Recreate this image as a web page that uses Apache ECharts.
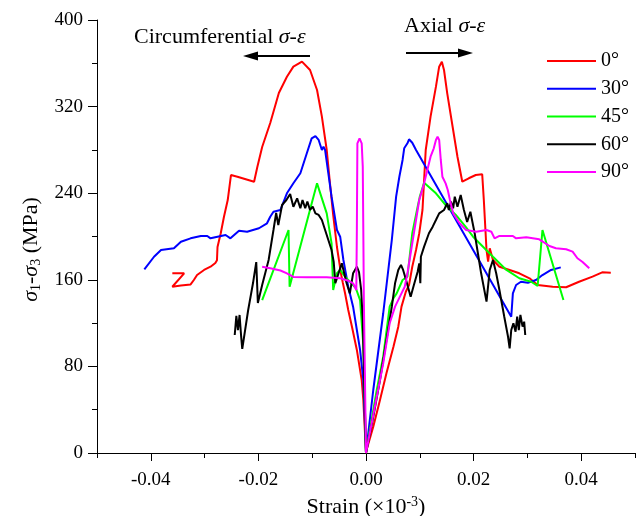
<!DOCTYPE html>
<html>
<head>
<meta charset="utf-8">
<script src="https://cdn.jsdelivr.net/npm/echarts@6/dist/echarts.min.js"></script>
<style>
  html, body { margin: 0; padding: 0; background: #fff; }
  #chart { width: 638px; height: 516px; }
</style>
</head>
<body>
<div id="chart"></div>
<script>
const FONT = "'Liberation Serif', 'Times New Roman', serif";

const angleNames = ['0°', '30°', '45°', '60°', '90°'];
const lineColors = ['#ff0000', '#0000ff', '#00ff00', '#000000', '#ff00ff'];

const xLabelTicks = [-0.04, -0.02, 0, 0.02, 0.04];
const xMinorTicks = [-0.05, -0.03, -0.01, 0.01, 0.03, 0.05];
const yMin = 0, yMax = 400, yStep = 80;

// Circumferential branches: [strain, deviatoric stress], from the far end back to the origin
const circ0 = [[-0.0360,166.0],[-0.0338,166.0],[-0.0360,153.6],[-0.0344,154.7],[-0.0326,155.7],[-0.0320,159.8],[-0.0314,164.4],[-0.0301,169.1],[-0.0289,172.1],[-0.0280,175.5],[-0.0277,178.0],[-0.0276,190.3],[-0.0270,203.0],[-0.0264,218.3],[-0.0257,233.7],[-0.0251,256.8],[-0.0239,255.2],[-0.0208,250.6],[-0.0202,264.2],[-0.0193,282.7],[-0.0178,304.9],[-0.0162,332.6],[-0.0147,347.6],[-0.0135,356.9],[-0.0119,361.5],[-0.0104,353.8],[-0.0091,335.3],[-0.0082,310.7],[-0.0073,279.9],[-0.0067,249.4],[-0.0061,219.9],[-0.0054,190.3],[-0.0046,164.4],[-0.0043,157.0],[-0.0039,147.8],[-0.0033,132.1],[-0.0026,116.4],[-0.0017,95.2],[-0.0008,67.4],[-0.0005,49.0],[0,0]];
const circ30 = [[-0.0412,169.7],[-0.0394,181.3],[-0.0381,187.5],[-0.0357,189.1],[-0.0344,195.2],[-0.0326,198.3],[-0.0307,200.5],[-0.0295,200.5],[-0.0289,198.3],[-0.0276,199.8],[-0.0261,201.4],[-0.0252,198.3],[-0.0236,205.4],[-0.0221,204.4],[-0.0199,207.6],[-0.0184,212.2],[-0.0178,218.3],[-0.0172,222.9],[-0.0159,224.5],[-0.0147,239.9],[-0.0135,249.2],[-0.0122,258.4],[-0.0110,276.9],[-0.0101,290.7],[-0.0094,292.8],[-0.0088,289.2],[-0.0082,279.9],[-0.0079,283.0],[-0.0076,279.9],[-0.0070,258.4],[-0.0064,236.8],[-0.0054,206.0],[-0.0048,199.8],[-0.0042,178.3],[-0.0033,153.6],[-0.0024,135.2],[-0.0017,113.6],[-0.0011,95.2],[-0.0005,67.4],[0,0]];
const circ45 = [[-0.0193,141.3],[-0.0144,206.0],[-0.0142,153.6],[-0.0091,249.1],[-0.0073,221.4],[-0.0064,193.7],[-0.0061,150.6],[-0.0054,166.0],[-0.0048,169.1],[-0.0039,162.9],[-0.0030,158.2],[-0.0019,152.4],[-0.0011,141.3],[-0.0005,99.8],[0,0]];
const circ60 = [[-0.0244,109.0],[-0.0241,126.6],[-0.0238,113.6],[-0.0235,127.5],[-0.0232,107.2],[-0.0230,96.1],[-0.0219,132.1],[-0.0210,157.0],[-0.0204,176.4],[-0.0201,138.6],[-0.0193,155.2],[-0.0181,178.3],[-0.0172,206.0],[-0.0167,221.7],[-0.0163,210.6],[-0.0156,229.1],[-0.0148,233.7],[-0.0141,239.3],[-0.0135,227.5],[-0.0128,235.3],[-0.0122,226.1],[-0.0118,233.7],[-0.0113,226.1],[-0.0109,232.2],[-0.0104,224.5],[-0.0099,227.5],[-0.0094,221.4],[-0.0088,219.9],[-0.0082,215.2],[-0.0076,206.0],[-0.0070,196.8],[-0.0064,187.5],[-0.0060,176.4],[-0.0057,156.8],[-0.0051,166.0],[-0.0045,175.2],[-0.0036,156.8],[-0.0030,147.5],[-0.0024,166.0],[-0.0017,172.1],[-0.0013,167.2],[-0.0009,150.6],[-0.0006,122.9],[0,0]];
const circ90 = [[-0.0193,172.1],[-0.0178,170.6],[-0.0159,168.6],[-0.0147,166.0],[-0.0135,162.6],[-0.0110,162.3],[-0.0073,162.3],[-0.0048,161.4],[-0.0033,159.2],[-0.0024,156.8],[-0.0018,150.6],[-0.0017,206.0],[-0.0016,286.1],[-0.0012,290.7],[-0.0008,286.1],[-0.0006,264.5],[-0.0005,206.0],[-0.0004,141.3],[0,0]];

// Axial branches: [strain, deviatoric stress], from the origin outwards
const axial0 = [[0,0],[0.0001,2.8],[0.00135,24.3],[0.0026,49.0],[0.0038,73.6],[0.0051,98.2],[0.0060,116.7],[0.0066,135.2],[0.0074,149.0],[0.0080,155.2],[0.0086,172.1],[0.0093,187.5],[0.0099,203.0],[0.0105,224.5],[0.0111,279.9],[0.0120,310.7],[0.0130,338.4],[0.0136,356.9],[0.0141,361.5],[0.0145,353.8],[0.0151,332.3],[0.0161,301.4],[0.0170,273.7],[0.0179,250.6],[0.0191,253.8],[0.0204,256.8],[0.0216,257.5],[0.0219,233.7],[0.0222,206.0],[0.0224,187.5],[0.0227,176.7],[0.0230,189.1],[0.0236,178.3],[0.0248,172.1],[0.0267,169.1],[0.0285,166.0],[0.0304,161.4],[0.0319,155.2],[0.0347,153.6],[0.0372,153.1],[0.0396,158.2],[0.0421,162.9],[0.0439,166.9],[0.0455,166.6]];
const axial30 = [[0,0],[0.00135,58.2],[0.0032,129.1],[0.0048,196.8],[0.0056,236.8],[0.0062,255.2],[0.0068,270.7],[0.0071,281.5],[0.0077,286.1],[0.0080,289.8],[0.0086,286.6],[0.0089,287.6],[0.0093,279.9],[0.0270,125.9],[0.0273,147.5],[0.0279,155.2],[0.0288,158.2],[0.0301,157.3],[0.0316,159.8],[0.0328,164.4],[0.0344,169.1],[0.0362,171.5]];
const axial45 = [[0,0],[0.0020,58.2],[0.0032,89.0],[0.0044,135.2],[0.0051,142.9],[0.0057,147.5],[0.0068,159.8],[0.0077,162.9],[0.0086,203.0],[0.0096,227.5],[0.0100,236.8],[0.0108,249.7],[0.0130,239.9],[0.0148,229.1],[0.0167,219.9],[0.0185,209.1],[0.0199,199.8],[0.0236,181.3],[0.0261,169.1],[0.0285,161.4],[0.0307,158.2],[0.0319,154.3],[0.0328,206.0],[0.0367,141.3]];
const axial60 = [[0,0],[0.00135,33.5],[0.0026,67.4],[0.0038,104.4],[0.0048,135.2],[0.0054,156.8],[0.0060,169.1],[0.0065,173.7],[0.0069,169.1],[0.0075,158.9],[0.0083,144.4],[0.0089,155.2],[0.0096,167.5],[0.0099,175.2],[0.0101,156.8],[0.0102,181.3],[0.0108,190.6],[0.0117,203.0],[0.0124,209.1],[0.0130,215.2],[0.0136,221.4],[0.0145,224.5],[0.0151,230.7],[0.0154,224.5],[0.0158,232.2],[0.0162,226.1],[0.0165,236.8],[0.0170,227.5],[0.0176,238.3],[0.0182,224.5],[0.0188,213.4],[0.0194,222.9],[0.0202,203.0],[0.0208,184.5],[0.0214,166.0],[0.0224,139.8],[0.0230,169.1],[0.0236,178.3],[0.0242,166.0],[0.0248,150.6],[0.0257,125.9],[0.0264,107.4],[0.0267,96.7],[0.0270,113.6],[0.0274,119.8],[0.0278,112.1],[0.0281,125.9],[0.0284,113.6],[0.0287,127.5],[0.0291,116.7],[0.0294,121.3],[0.0296,109.0]];
const axial90 = [[0,0],[0.0020,52.0],[0.0032,82.9],[0.0044,119.8],[0.0054,135.2],[0.0063,144.4],[0.0072,153.6],[0.0077,166.0],[0.0083,184.5],[0.0089,203.0],[0.0099,233.7],[0.0108,249.1],[0.0114,261.4],[0.0120,273.7],[0.0126,281.5],[0.0130,289.2],[0.0133,292.2],[0.0136,289.2],[0.0139,270.7],[0.0142,255.2],[0.0148,249.1],[0.0152,243.0],[0.0156,233.7],[0.0162,221.4],[0.0174,212.2],[0.0186,206.0],[0.0205,204.4],[0.0224,206.0],[0.0233,204.4],[0.0239,198.3],[0.0248,200.5],[0.0273,200.5],[0.0279,198.3],[0.0298,199.3],[0.0322,197.4],[0.0341,191.2],[0.0353,189.1],[0.0372,188.2],[0.0384,186.0],[0.0393,179.9],[0.0402,176.7],[0.0415,170.6]];

const circBranches = [circ0, circ30, circ45, circ60, circ90];
const axialBranches = [axial0, axial30, axial45, axial60, axial90];

const series = angleNames.map((name, i) => ({
  name: name,
  type: 'line',
  data: circBranches[i].concat(axialBranches[i]),
  symbol: 'none',
  showSymbol: false,
  color: lineColors[i],
  lineStyle: { color: lineColors[i], width: 2 },
  z: 2 + i
}));

const chart = echarts.init(document.getElementById('chart'), null, { renderer: 'canvas' });

const axisText = { color: '#000', fontFamily: FONT, fontSize: 19 };
const noteRich = { i: { fontFamily: FONT, fontSize: 22, fontStyle: 'italic', fill: '#000' } };

chart.setOption({
  animation: false,
  backgroundColor: '#fff',
  grid: { left: 97, right: 3, top: 20, bottom: 63, outerBoundsMode: 'none', containLabel: false },
  legend: {
    orient: 'vertical',
    left: 542,
    top: 46,
    icon: 'rect',
    itemWidth: 49,
    itemHeight: 2,
    itemGap: 7.75,
    data: angleNames,
    textStyle: { color: '#000', fontFamily: FONT, fontSize: 20 }
  },
  xAxis: [{
    type: 'value',
    min: -0.05,
    max: 0.05,
    interval: 0.01,
    name: 'Strain (×10{sup|-3})',
    nameLocation: 'middle',
    nameGap: 38,
    nameTextStyle: {
      color: '#000', fontFamily: FONT, fontSize: 22,
      rich: { sup: { fontFamily: FONT, fontSize: 14, color: '#000', verticalAlign: 'top', padding: [0, 0, 10, 0] } }
    },
    axisLine: { show: true, onZero: false, lineStyle: { color: '#000', width: 1 } },
    axisTick: { show: true, inside: false, length: 8, customValues: xLabelTicks, lineStyle: { color: '#000' } },
    axisLabel: { ...axisText, margin: 18, customValues: xLabelTicks, formatter: v => v.toFixed(2) },
    splitLine: { show: false }
  }, {
    type: 'value',
    min: -0.05,
    max: 0.05,
    interval: 0.01,
    position: 'bottom',
    axisLine: { show: false, onZero: false },
    axisTick: { show: true, inside: false, length: 5, customValues: xMinorTicks, lineStyle: { color: '#000' } },
    axisLabel: { show: false },
    splitLine: { show: false }
  }],
  yAxis: {
    type: 'value',
    min: yMin,
    max: yMax,
    interval: yStep,
    position: 'left',
    name: '{i|σ}{sub|1}-{i|σ}{sub|3} (MPa)',
    nameLocation: 'middle',
    nameRotate: 90,
    nameGap: 54,
    nameTextStyle: {
      color: '#000', fontFamily: FONT, fontSize: 22,
      padding: [0, 26, 0, 0],
      rich: {
        i: { fontFamily: FONT, fontSize: 22, fontStyle: 'italic', color: '#000' },
        sub: { fontFamily: FONT, fontSize: 14, color: '#000', verticalAlign: 'bottom', padding: [9, 0, 0, 0] }
      }
    },
    axisLine: { show: true, onZero: false, lineStyle: { color: '#000', width: 1 } },
    axisTick: { show: true, inside: false, length: 9, lineStyle: { color: '#000' } },
    minorTick: { show: true, splitNumber: 2, length: 5, lineStyle: { color: '#000' } },
    axisLabel: { ...axisText, margin: 14 },
    splitLine: { show: false }
  },
  graphic: [
    {
      type: 'text', left: 134, top: 26, z: 50,
      style: { text: 'Circumferential {i|σ-ε}', fill: '#000', fontFamily: FONT, fontSize: 22, rich: noteRich }
    },
    {
      type: 'text', left: 404, top: 15, z: 50,
      style: { text: 'Axial {i|σ-ε}', fill: '#000', fontFamily: FONT, fontSize: 22, rich: noteRich }
    },
    { type: 'line', z: 50, shape: { x1: 310, y1: 56, x2: 254, y2: 56 }, style: { stroke: '#000', lineWidth: 2 } },
    { type: 'polygon', z: 50, shape: { points: [[243, 56], [258, 51.5], [258, 60.5]] }, style: { fill: '#000' } },
    { type: 'line', z: 50, shape: { x1: 406, y1: 53, x2: 462, y2: 53 }, style: { stroke: '#000', lineWidth: 2 } },
    { type: 'polygon', z: 50, shape: { points: [[473, 53], [458, 48.5], [458, 57.5]] }, style: { fill: '#000' } }
  ],
  series: series
});
</script>
</body>
</html>
